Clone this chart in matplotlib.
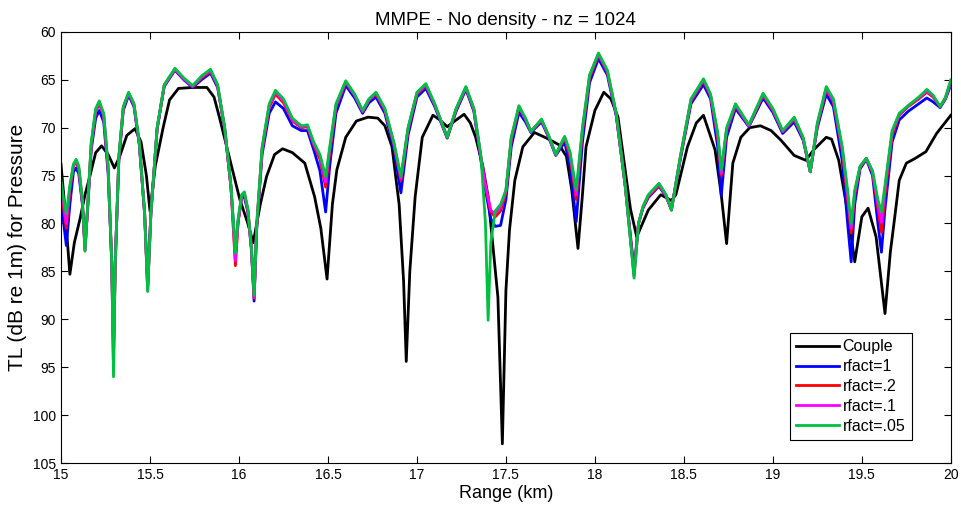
import matplotlib.pyplot as plt

plt.rcParams['font.family'] = ['Liberation Sans', 'DejaVu Sans']

# rfact curves share one range grid (km)
x_rf = [15.000, 15.015, 15.030, 15.050, 15.070, 15.085, 15.100, 15.120, 15.135, 15.150,
        15.170, 15.195, 15.215, 15.240, 15.265, 15.285, 15.295, 15.305, 15.325, 15.350,
        15.380, 15.410, 15.440, 15.470, 15.487, 15.505, 15.540, 15.580, 15.640, 15.690,
        15.740, 15.790, 15.840, 15.880, 15.920, 15.955, 15.980, 15.995, 16.015, 16.030,
        16.050, 16.070, 16.085, 16.100, 16.130, 16.170, 16.205, 16.250, 16.300, 16.350,
        16.385, 16.420, 16.455, 16.487, 16.510, 16.545, 16.600, 16.650, 16.695, 16.730,
        16.770, 16.820, 16.870, 16.910, 16.950, 17.000, 17.050, 17.100, 17.170, 17.220,
        17.275, 17.320, 17.360, 17.385, 17.400, 17.415, 17.440, 17.470, 17.500, 17.530,
        17.573, 17.610, 17.640, 17.700, 17.740, 17.780, 17.830, 17.860, 17.895, 17.930,
        17.970, 18.020, 18.070, 18.120, 18.170, 18.220, 18.245, 18.270, 18.300, 18.360,
        18.400, 18.430, 18.480, 18.540, 18.610, 18.650, 18.690, 18.710, 18.740, 18.790,
        18.865, 18.945, 19.000, 19.055, 19.120, 19.170, 19.210, 19.250, 19.300, 19.340,
        19.390, 19.420, 19.440, 19.460, 19.490, 19.525, 19.560, 19.590, 19.610, 19.630,
        19.670, 19.710, 19.760, 19.820, 19.865, 19.900, 19.940, 19.970, 20.000]

tl_rf005 = [75.5, 77.5, 79.0, 76.0, 73.8, 73.3, 74.0, 77.5, 82.9, 78.0,
            71.5, 68.0, 67.2, 68.5, 74.0, 84.0, 96.0, 84.0, 73.0, 67.8,
            66.3, 67.5, 71.5, 79.0, 87.1, 79.0, 70.0, 65.5, 63.8, 64.8,
            65.6, 64.6, 63.9, 65.5, 70.0, 76.0, 83.1, 79.5, 77.0, 76.7,
            78.5, 82.5, 87.5, 80.0, 72.0, 67.5, 66.1, 67.0, 69.0, 69.8,
            69.7, 71.5, 72.8, 75.1, 72.0, 67.5, 65.1, 66.5, 68.2, 67.0,
            66.3, 68.0, 71.5, 75.1, 70.0, 66.3, 65.4, 67.5, 71.0, 68.0,
            65.7, 68.0, 73.0, 80.0, 90.1, 82.0, 78.7, 78.0, 76.5, 71.0,
            67.7, 69.0, 70.4, 69.1, 70.8, 72.8, 70.9, 72.5, 76.5, 70.0,
            64.5, 62.2, 64.0, 68.5, 76.0, 85.7, 80.0, 78.2, 77.0, 75.8,
            77.0, 78.6, 73.0, 67.0, 64.9, 66.5, 70.5, 74.4, 70.0, 67.5,
            69.7, 66.4, 68.0, 70.3, 68.9, 71.0, 74.6, 69.5, 65.7, 67.0,
            72.0, 76.5, 80.0, 76.5, 74.0, 73.2, 74.5, 77.5, 78.8, 76.0,
            70.3, 68.5, 67.7, 66.8, 66.0, 66.6, 67.8, 66.8, 65.0]

tl_rf1 = [77.0, 80.0, 82.3, 78.0, 74.6, 74.2, 74.8, 78.0, 82.5, 78.5,
          72.3, 69.0, 68.2, 69.4, 74.8, 84.0, 93.0, 84.0, 73.5, 68.2,
          66.6, 67.8, 71.8, 79.0, 86.5, 79.0, 70.2, 65.7, 64.0, 65.0,
          65.8, 65.0, 64.3, 65.8, 70.2, 76.2, 83.0, 79.8, 77.3, 77.2,
          78.8, 82.8, 88.1, 80.5, 72.8, 68.5, 67.3, 68.0, 69.8, 70.3,
          70.3, 72.3, 74.5, 78.8, 74.0, 68.5, 65.6, 66.9, 68.5, 67.4,
          66.8, 68.5, 72.2, 76.8, 70.8, 66.8, 65.9, 67.8, 71.1, 68.3,
          66.0, 68.3, 73.5, 76.5, 78.0, 79.5, 80.3, 80.2, 77.5, 72.0,
          68.4, 69.4, 70.5, 69.4, 71.0, 72.9, 71.5, 74.0, 79.8, 71.5,
          65.3, 62.8, 64.5, 68.8, 76.0, 84.8, 80.0, 78.4, 77.3, 76.1,
          77.2, 78.5, 73.3, 67.5, 65.5, 67.0, 72.0, 77.1, 71.0, 68.0,
          69.9, 66.9, 68.4, 70.6, 69.4, 71.3, 74.6, 70.0, 66.5, 67.8,
          73.5, 80.0, 84.0, 78.0, 74.3, 73.3, 75.0, 80.0, 83.0, 78.5,
          71.5, 69.2, 68.3, 67.5, 66.9, 67.3, 67.9, 67.0, 65.5]

tl_rf02 = [76.0, 78.5, 80.5, 76.5, 74.0, 73.6, 74.3, 77.7, 82.8, 78.2,
           71.8, 68.3, 67.5, 68.8, 74.3, 84.0, 94.0, 84.0, 73.2, 67.9,
           66.4, 67.6, 71.6, 79.0, 86.8, 79.0, 70.1, 65.6, 63.9, 64.9,
           65.7, 64.8, 64.1, 65.6, 70.1, 76.2, 84.4, 80.0, 77.1, 76.8,
           78.6, 82.6, 87.8, 80.2, 72.3, 67.9, 66.5, 67.4, 69.3, 70.0,
           69.9, 71.8, 73.3, 76.2, 72.6, 67.8, 65.3, 66.6, 68.3, 67.1,
           66.5, 68.2, 71.7, 75.5, 70.2, 66.5, 65.6, 67.6, 71.0, 68.1,
           65.8, 68.1, 73.2, 76.0, 77.5, 78.8, 79.3, 78.7, 76.8, 71.3,
           67.9, 69.1, 70.4, 69.2, 70.9, 72.8, 71.1, 73.0, 77.5, 70.4,
           64.8, 62.4, 64.2, 68.6, 76.0, 85.3, 80.0, 78.3, 77.2, 76.0,
           77.1, 78.6, 73.1, 67.2, 65.1, 66.7, 71.0, 75.0, 70.3, 67.7,
           69.8, 66.6, 68.2, 70.4, 69.1, 71.1, 74.6, 69.7, 66.0, 67.3,
           72.4, 77.5, 81.0, 77.0, 74.1, 73.2, 74.7, 78.5, 80.9, 77.0,
           70.8, 68.7, 67.8, 67.0, 66.3, 66.8, 67.8, 66.9, 65.2]

tl_rf01 = [75.8, 78.0, 80.0, 76.3, 73.9, 73.5, 74.2, 77.6, 82.8, 78.1,
           71.7, 68.2, 67.4, 68.7, 74.2, 84.0, 95.0, 84.0, 73.1, 67.9,
           66.4, 67.6, 71.6, 79.0, 87.0, 79.0, 70.1, 65.6, 63.9, 64.9,
           65.7, 64.7, 64.0, 65.6, 70.1, 76.1, 83.9, 79.8, 77.1, 76.8,
           78.6, 82.6, 87.7, 80.1, 72.2, 67.7, 66.3, 67.2, 69.2, 69.9,
           69.8, 71.7, 73.0, 75.7, 72.3, 67.7, 65.2, 66.6, 68.3, 67.1,
           66.4, 68.1, 71.6, 75.3, 70.1, 66.4, 65.5, 67.6, 71.0, 68.1,
           65.8, 68.1, 73.1, 76.0, 77.3, 78.6, 79.0, 78.3, 76.6, 71.1,
           67.8, 69.1, 70.4, 69.2, 70.9, 72.8, 71.0, 72.7, 77.0, 70.2,
           64.6, 62.3, 64.1, 68.6, 76.0, 85.5, 80.0, 78.3, 77.1, 75.9,
           77.1, 78.6, 73.1, 67.1, 65.0, 66.6, 70.7, 74.8, 70.2, 67.6,
           69.8, 66.5, 68.1, 70.4, 69.0, 71.1, 74.6, 69.6, 65.9, 67.2,
           72.2, 77.0, 80.5, 76.8, 74.1, 73.2, 74.6, 78.0, 79.9, 76.5,
           70.5, 68.6, 67.7, 66.9, 66.2, 66.7, 67.8, 66.9, 65.1]

# coupled-mode reference
x_couple = [15.000, 15.020, 15.050, 15.075, 15.107, 15.135, 15.163, 15.195, 15.228, 15.265,
            15.300, 15.330, 15.370, 15.416, 15.450, 15.480, 15.500, 15.530, 15.575, 15.610,
            15.660, 15.740, 15.820, 15.860, 15.890, 15.950, 16.005, 16.050, 16.080, 16.120,
            16.155, 16.200, 16.245, 16.300, 16.370, 16.425, 16.460, 16.495, 16.525, 16.550,
            16.600, 16.660, 16.725, 16.780, 16.820, 16.860, 16.900, 16.925, 16.940, 16.960,
            16.990, 17.030, 17.090, 17.130, 17.170, 17.220, 17.265, 17.300, 17.330, 17.370,
            17.400, 17.455, 17.480, 17.500, 17.520, 17.550, 17.595, 17.660, 17.730, 17.800,
            17.840, 17.870, 17.905, 17.930, 17.950, 18.000, 18.050, 18.090, 18.130, 18.170,
            18.200, 18.235, 18.300, 18.370, 18.430, 18.455, 18.520, 18.570, 18.610, 18.675,
            18.710, 18.740, 18.775, 18.820, 18.870, 18.930, 18.990, 19.045, 19.120, 19.185,
            19.230, 19.300, 19.330, 19.370, 19.420, 19.460, 19.500, 19.535, 19.580, 19.630,
            19.660, 19.685, 19.710, 19.750, 19.800, 19.860, 19.920, 20.000]

tl_couple = [73.8, 78.0, 85.3, 82.0, 79.5, 77.0, 75.0, 72.6, 71.9, 72.8,
             74.2, 73.0, 70.8, 70.1, 71.5, 75.0, 78.7, 74.0, 69.9, 67.1,
             65.9, 65.8, 65.8, 66.8, 68.9, 73.4, 77.5, 80.0, 82.0, 78.0,
             75.1, 72.8, 72.2, 72.6, 73.7, 77.2, 80.5, 85.8, 78.0, 74.4,
             71.0, 69.3, 68.9, 69.0, 69.8, 72.0, 78.0, 86.0, 94.4, 85.0,
             77.2, 71.0, 68.7, 69.2, 69.9, 69.2, 68.6, 69.5, 71.0, 74.0,
             77.2, 87.7, 103.0, 87.0, 80.7, 75.5, 72.0, 70.5, 71.1, 71.8,
             73.0, 76.5, 82.6, 77.0, 72.0, 68.2, 66.3, 67.0, 68.9, 74.4,
             78.5, 81.4, 78.6, 77.0, 77.6, 77.0, 72.0, 69.5, 68.7, 72.3,
             77.0, 82.1, 73.7, 71.0, 70.0, 69.8, 70.3, 71.3, 72.9, 73.4,
             72.3, 71.0, 71.2, 73.4, 78.8, 84.0, 79.3, 78.4, 81.4, 89.4,
             83.0, 79.3, 75.5, 73.7, 73.2, 72.5, 70.6, 68.7]

fig = plt.figure(figsize=(9.62, 5.12), dpi=100)
ax = fig.add_axes([0.0634, 0.0957, 0.925, 0.842])

ax.plot(x_couple, tl_couple, color='black', lw=2, label='Couple')
ax.plot(x_rf, tl_rf1, color='#0000ff', lw=2, label='rfact=1')
ax.plot(x_rf, tl_rf02, color='#ff0000', lw=2, label='rfact=.2')
ax.plot(x_rf, tl_rf01, color='#ff00ff', lw=2, label='rfact=.1')
ax.plot(x_rf, tl_rf005, color='#00c040', lw=2, label='rfact=.05')

ax.set_xlim(15, 20)
ax.set_ylim(105, 60)
ax.set_xticks([15, 15.5, 16, 16.5, 17, 17.5, 18, 18.5, 19, 19.5, 20])
ax.set_xticklabels(['15', '15.5', '16', '16.5', '17', '17.5', '18', '18.5', '19', '19.5', '20'])
ax.set_yticks(range(60, 106, 5))
ax.tick_params(direction='in', top=True, right=True, labelsize=10, length=5)

ax.set_title('MMPE - No density - nz = 1024', fontsize=13.5, pad=5)
ax.set_xlabel('Range (km)', fontsize=13, labelpad=2)
ax.set_ylabel('TL (dB re 1m) for Pressure', fontsize=15, labelpad=4)

leg = ax.legend(loc='lower right', bbox_to_anchor=(0.965, 0.035), fontsize=11.5,
                fancybox=False, framealpha=1, edgecolor='black',
                handlelength=2.7, handletextpad=0.2, borderpad=0.4, labelspacing=0.3)
leg.get_frame().set_linewidth(0.8)

fig.savefig('out.png', dpi=100)
